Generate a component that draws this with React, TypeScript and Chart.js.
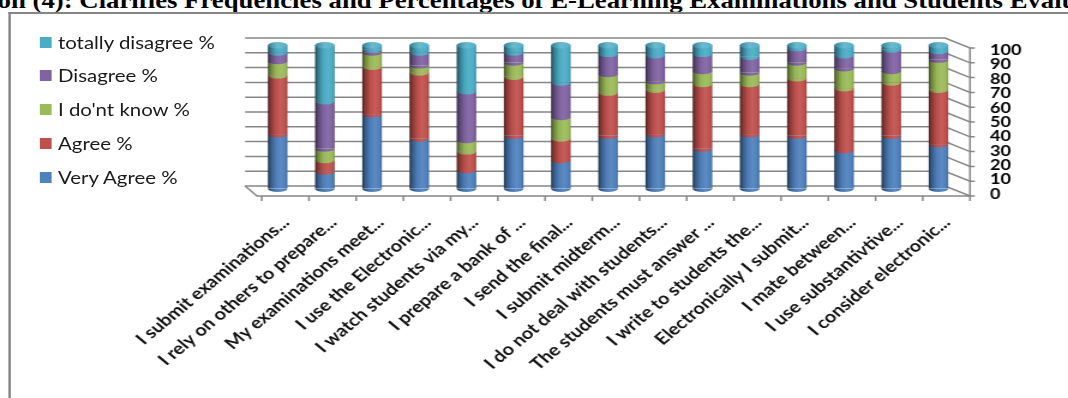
import React, { useEffect, useRef } from 'react';
import { Chart, registerables } from 'chart.js';

Chart.register(...registerables);

const categories = [
  'I submit examinations...',
  'I rely on others to prepare...',
  'My examinations meet...',
  'I use the Electronic...',
  'I watch students via my...',
  'I prepare a bank of ...',
  'I send the final...',
  'I submit midterm...',
  'I do not deal with students...',
  'The students must answer ...',
  'I write to students the...',
  'Electronically I submit...',
  'I mate between...',
  'I use substantivtive...',
  'I consider electronic...',
];

const seriesNames = ['Very Agree %', 'Agree %', "I do'nt know %", 'Disagree %', 'totally disagree %'];
const veryAgree = [38, 12, 52, 35, 13, 37, 20, 37, 38, 28, 38, 37, 27, 37, 31];
const agree = [41, 8, 33, 46, 13, 41, 15, 30, 31, 45, 35, 40, 43, 37, 38];
const dontKnow = [10, 8, 10, 5, 8, 10, 15, 13, 6, 9, 8, 11, 14, 8, 21];
const disagree = [6, 33, 2, 9, 34, 7, 24, 14, 18, 12, 11, 10, 9, 15, 6];
const totallyDisagree = [5, 39, 3, 5, 32, 5, 26, 6, 7, 6, 8, 2, 7, 3, 4];
const seriesColors = ['#4F81BD', '#C0504D', '#9BBB59', '#8064A2', '#4BACC6'];

const yMin = 0;
const yMax = 100;
const yStep = 10;

const titleText =
  'on (4): Clarifies Frequencies and Percentages of E-Learning Examinations and Students Evaluation';

const STRETCH = 1.2;
const CANVAS_W = 890;
const CANVAS_H = 398;
const CAT_PCT = 0.415;
const RY = 3.2;

function shade(hex: string, f: number) {
  const n = parseInt(hex.slice(1), 16);
  let r = (n >> 16) & 255,
    g = (n >> 8) & 255,
    b = n & 255;
  if (f <= 1) {
    r *= f;
    g *= f;
    b *= f;
  } else {
    const t = f - 1;
    r += (255 - r) * t;
    g += (255 - g) * t;
    b += (255 - b) * t;
  }
  return `rgb(${Math.round(r)},${Math.round(g)},${Math.round(b)})`;
}

function cylGradient(ctx: CanvasRenderingContext2D, cx: number, w: number, hex: string) {
  const g = ctx.createLinearGradient(cx - w / 2, 0, cx + w / 2, 0);
  g.addColorStop(0, shade(hex, 0.42));
  g.addColorStop(0.15, shade(hex, 0.7));
  g.addColorStop(0.4, shade(hex, 0.97));
  g.addColorStop(0.65, shade(hex, 1.08));
  g.addColorStop(0.88, shade(hex, 1.0));
  g.addColorStop(1, shade(hex, 0.82));
  return g;
}

const frame3d = {
  id: 'frame3d',
  beforeDatasetsDraw(chart: any) {
    const { ctx, chartArea: ca, scales } = chart;
    const ys = scales.y;
    const bottom = ca.bottom;
    const K = 1.032;
    const yBack = (v: number) => bottom - 2.7 - (bottom - ys.getPixelForValue(v)) * K;
    const yFront = (v: number) => bottom + 7.3 - (bottom - ys.getPixelForValue(v)) * K;
    const backL = ca.left - 7.5;
    const backR = ca.right - 14.2;
    const frontL = ca.left + 6.4;
    const frontR = ca.right + 6.6;
    ctx.save();
    ctx.strokeStyle = '#878787';
    ctx.lineWidth = 1.5;
    for (const t of ys.ticks) {
      const v = t.value;
      ctx.beginPath();
      ctx.moveTo(backL, yBack(v));
      ctx.lineTo(backR, yBack(v));
      ctx.lineTo(frontR, yFront(v));
      ctx.lineTo(frontR + 4, yFront(v));
      ctx.stroke();
    }
    ctx.beginPath();
    ctx.moveTo(frontR, yFront(ys.min));
    ctx.lineTo(frontR, yFront(ys.max));
    ctx.stroke();
    ctx.beginPath();
    ctx.moveTo(backL, yBack(ys.min));
    ctx.lineTo(frontL - 4, yFront(ys.min));
    ctx.lineTo(frontR, yFront(ys.min));
    const n = chart.data.labels.length;
    for (let i = 0; i <= n; i++) {
      const xx = frontL + ((frontR - frontL) * i) / n;
      ctx.moveTo(xx, yFront(ys.min));
      ctx.lineTo(xx, yFront(ys.min) + 5);
    }
    ctx.stroke();
    ctx.restore();
  },
  afterDatasetsDraw(chart: any) {
    const { ctx } = chart;
    ctx.save();
    const nd = chart.data.datasets.length;
    for (let d = 0; d < nd; d++) {
      const meta = chart.getDatasetMeta(d);
      meta.data.forEach((bar: any) => {
        const { x, base, width } = bar;
        ctx.beginPath();
        ctx.ellipse(x, base, width / 2, RY, 0, 0, Math.PI);
        ctx.closePath();
        ctx.fillStyle = cylGradient(ctx, x, width, seriesColors[d]);
        ctx.fill();
      });
    }
    const top = chart.getDatasetMeta(nd - 1);
    top.data.forEach((bar: any) => {
      const { x, y, width } = bar;
      ctx.beginPath();
      ctx.ellipse(x, y, width / 2, RY, 0, 0, Math.PI * 2);
      const g = ctx.createLinearGradient(x - width / 2, 0, x + width / 2, 0);
      g.addColorStop(0, shade(seriesColors[nd - 1], 0.75));
      g.addColorStop(0.5, shade(seriesColors[nd - 1], 1.18));
      g.addColorStop(1, shade(seriesColors[nd - 1], 1.05));
      ctx.fillStyle = g;
      ctx.fill();
    });
    ctx.restore();
  },
};

export default function App() {
  const ref = useRef<HTMLCanvasElement>(null);

  useEffect(() => {
    const series = [veryAgree, agree, dontKnow, disagree, totallyDisagree];
    const chart = new Chart(ref.current!, {
      type: 'bar',
      data: {
        labels: categories,
        datasets: series.map((vals, i) => ({
          label: seriesNames[i],
          data: vals,
          barPercentage: 1,
          categoryPercentage: CAT_PCT,
          borderWidth: 0,
          backgroundColor: (c: any) => {
            const ch = c.chart;
            const xs = ch.scales && ch.scales.x;
            if (!ch.chartArea || !xs || c.dataIndex === undefined) return seriesColors[i];
            const cx = xs.getPixelForValue(c.dataIndex);
            const w = (xs.width / categories.length) * CAT_PCT;
            return cylGradient(ch.ctx, cx, w, seriesColors[i]);
          },
        })),
      },
      options: {
        responsive: false,
        animation: false,
        layout: { padding: { left: 211.7, right: 28.3, top: 45.3, bottom: 0 } },
        plugins: {
          legend: { display: false },
          tooltip: { enabled: false },
          title: { display: false },
        },
        scales: {
          x: {
            stacked: true,
            grid: { display: false, drawTicks: false },
            border: { display: false },
            ticks: {
              autoSkip: false,
              maxRotation: 45,
              minRotation: 45,
              padding: 24,
              labelOffset: 7,
              color: '#111',
              font: { family: 'Lato', size: 16.5, weight: 'bold' },
            },
            afterFit: (s: any) => {
              s.height = CANVAS_H - 188.7;
            },
          },
          y: {
            stacked: true,
            position: 'right',
            min: yMin,
            max: yMax,
            grid: { display: false, drawTicks: false },
            border: { display: false },
            ticks: {
              stepSize: yStep,
              autoSkip: false,
              padding: 23.3,
              labelOffset: 5,
              color: '#000',
              font: { family: 'Lato', size: 15, weight: 'bold', lineHeight: 1 },
            },
            afterFit: (s: any) => {
              s.width = 60;
            },
          },
        },
      },
      plugins: [frame3d],
    } as any);
    chart.update();
    return () => chart.destroy();
  }, []);

  const legendOrder = [4, 3, 2, 1, 0];

  return (
    <div
      style={{
        position: 'absolute',
        left: 0,
        top: 0,
        width: CANVAS_W,
        height: CANVAS_H,
        overflow: 'hidden',
        transform: `scaleX(${STRETCH})`,
        transformOrigin: '0 0',
        background: '#fff',
      }}
    >
      <div
        style={{
          position: 'absolute',
          left: -2,
          top: -10,
          whiteSpace: 'nowrap',
          fontFamily: '"Liberation Serif", "Times New Roman", serif',
          fontWeight: 'bold',
          fontSize: 22.3,
          lineHeight: '22px',
          color: '#000',
        }}
      >
        {titleText}
      </div>
      <div
        style={{
          position: 'absolute',
          left: 7,
          top: 12,
          width: 1000,
          height: 500,
          borderLeft: '2px solid #858585',
          borderTop: '2px solid #858585',
        }}
      />
      <canvas
        ref={ref}
        width={CANVAS_W}
        height={CANVAS_H}
        style={{ position: 'absolute', left: 0, top: 0, width: CANVAS_W, height: CANVAS_H }}
      />
      {legendOrder.map((si, k) => (
        <div
          key={si}
          style={{
            position: 'absolute',
            left: 33.3,
            top: 42 + k * 33.75 - 10,
            height: 20,
            display: 'flex',
            alignItems: 'center',
            whiteSpace: 'nowrap',
            fontFamily: 'Lato, sans-serif',
            fontSize: 17,
            color: '#1a1a1a',
          }}
        >
          <span
            style={{
              display: 'inline-block',
              width: 10,
              height: 11,
              background: seriesColors[si],
              marginRight: 5,
            }}
          />
          <span>{seriesNames[si]}</span>
        </div>
      ))}
    </div>
  );
}
